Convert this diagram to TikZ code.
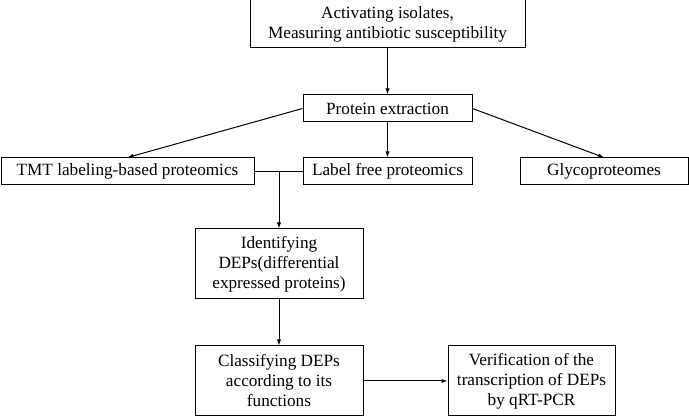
\documentclass[tikz,border=0pt]{standalone}
\usepackage{fontspec}
\setmainfont{Liberation Serif}
\usetikzlibrary{arrows.meta}

\begin{document}
\begin{tikzpicture}[
			 x=0.75pt, y=-0.75pt,
			 every node/.style={anchor=center, align=center, inner sep=0pt, font=\fontsize{12.9}{15}\selectfont},
			 process/.style={draw, line width=0.75pt, minimum height=20.25pt},
			 tall/.style={process, minimum height=52.5pt},
			 link/.style={-{Latex[length=4.5pt,width=3.2pt]}, line width=0.75pt}
			 ]
			 \useasboundingbox (0,0) rectangle (689,416);

			 % top row
			 \node[process, minimum width=206.25pt, minimum height=36pt] (start) at (387.5,24) {Activating isolates,\\Measuring antibiotic susceptibility};
			 \node[process, minimum width=126.75pt] (extract) at (387.5,108.5) {Protein extraction};

			 % three kinds of proteomics
			 \node[process, minimum width=189.75pt] (tmt) at (127.5,171.5) {TMT labeling-based proteomics};
			 \node[process, minimum width=126.75pt] (free) at (387.5,171.5) {Label free proteomics};
			 \node[process, minimum width=126pt] (glyco) at (604,171.5) {Glycoproteomes};

			 % lower part
			 \node[tall, minimum width=126pt] (ident) at (279,264) {Identifying\\DEPs(differential\\expressed proteins)};
			 \node[tall, minimum width=126pt] (classify) at (279,381) {Classifying DEPs\\according to its\\functions};
			 \node[tall, minimum width=125.25pt] (verify) at (531.5,381) {Verification of the\\transcription of DEPs\\by qRT-PCR};

			 \draw[link] (start.south) -- (extract.north);
			 \draw[link] (extract.west) -- (tmt.north);
			 \draw[link] (extract.south) -- (free.north);
			 \draw[link] (extract.east) -- (glyco.north);
			 \draw[line width=0.75pt] (tmt.east) -- (free.west);
			 \draw[link] (tmt.east -| ident.north) -- (ident.north);
			 \draw[link] (ident.south) -- (classify.north);
			 \draw[link] (classify.east) -- (verify.west);
		
		\end{tikzpicture}
\end{document}
